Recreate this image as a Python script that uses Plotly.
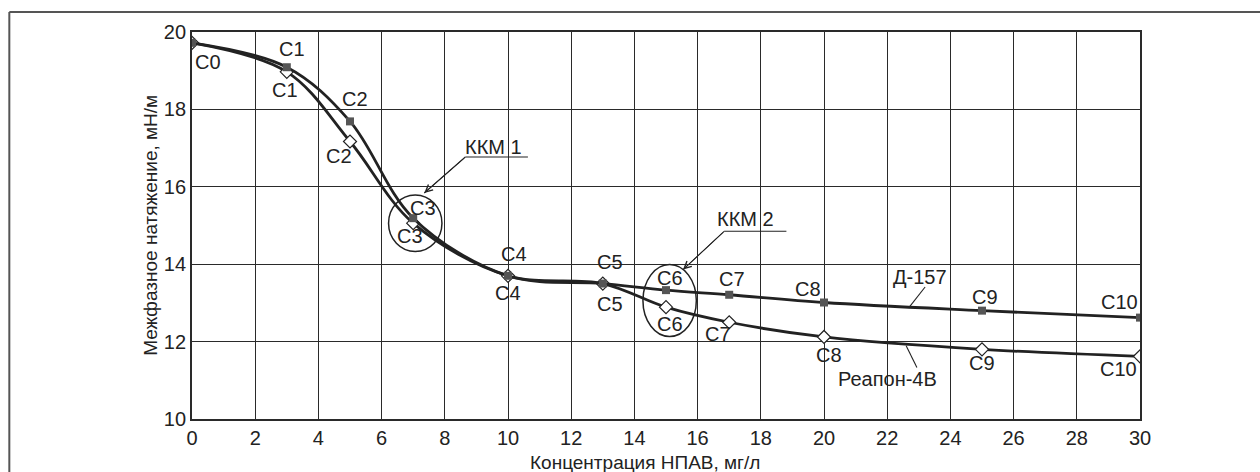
import plotly.graph_objects as go

# Concentration of nonionic surfactant, mg/l
conc = [0, 3, 5, 7, 10, 13, 15, 17, 20, 25, 30]
point_names = ["C0", "C1", "C2", "C3", "C4", "C5", "C6", "C7", "C8", "C9", "C10"]

# Interfacial tension, mN/m
d157 = [19.72, 19.09, 17.69, 15.19, 13.70, 13.50, 13.33, 13.21, 13.01, 12.80, 12.62]
reapon = [19.72, 18.97, 17.17, 15.06, 13.70, 13.50, 12.89, 12.50, 12.12, 11.80, 11.62]

x_ticks = list(range(0, 31, 2))
y_ticks = list(range(10, 21, 2))

FONT = "Liberation Sans, Arial, sans-serif"
INK = "#222222"
LABEL_SIZE = 20

fig = go.Figure()

fig.add_trace(go.Scatter(
    x=conc, y=reapon, mode="lines+markers", name="Реапон-4В",
    line=dict(color=INK, width=2.8, shape="spline", smoothing=1.0),
    marker=dict(symbol="diamond", size=10, color="white",
                line=dict(color=INK, width=1.2)),
))
fig.add_trace(go.Scatter(
    x=conc, y=d157, mode="lines+markers", name="Д-157",
    line=dict(color=INK, width=2.8, shape="spline", smoothing=1.0),
    marker=dict(symbol="square", size=8, color="#555555",
                line=dict(color="#555555", width=0)),
))

# point labels: (xshift, yshift) in pixels for each curve
d157_shift = [(16, -19), (5, 18), (5, 22), (10, 10), (6, 22), (7, 22),
              (4, 12), (3, 16), (-16, 14), (3, 14), (-21, 16)]
reapon_shift = [None, (-2, -18), (-11, -14), (-3, -13), (0, -17), (7, -20),
                (4, -17), (-11, -12), (5, -18), (0, -14), (-22, -13)]

annotations = []
shapes = []
for i, name in enumerate(point_names):
    dx, dy = d157_shift[i]
    annotations.append(dict(x=conc[i], y=d157[i], text=name, showarrow=False,
                            xshift=dx, yshift=dy,
                            font=dict(family=FONT, size=LABEL_SIZE, color=INK)))
    if reapon_shift[i] is not None:
        dx, dy = reapon_shift[i]
        annotations.append(dict(x=conc[i], y=reapon[i], text=name, showarrow=False,
                                xshift=dx, yshift=dy,
                                font=dict(family=FONT, size=LABEL_SIZE, color=INK)))

# critical micelle concentration callouts: label, underline, arrow
for label, tx, ty, tail, head, ul_end in [
    ("ККМ 1", 9.54, 17.04, (8.65, 16.77), (7.35, 15.84), 10.63),
    ("ККМ 2", 17.51, 15.18, (16.84, 14.85), (15.54, 13.86), 18.81),
]:
    annotations.append(dict(x=tx, y=ty, text=label, showarrow=False,
                            font=dict(family=FONT, size=LABEL_SIZE, color=INK)))
    annotations.append(dict(x=head[0], y=head[1], ax=tail[0], ay=tail[1],
                            axref="x", ayref="y", text="", showarrow=True,
                            arrowhead=5, arrowsize=1.4, arrowwidth=1.0,
                            arrowcolor=INK))
    shapes.append(dict(type="line", xref="x", yref="y",
                       x0=tail[0], y0=tail[1], x1=head[0], y1=head[1],
                       line=dict(color=INK, width=1.1)))
    shapes.append(dict(type="line", xref="x", yref="y",
                       x0=tail[0], x1=ul_end, y0=tail[1], y1=tail[1],
                       line=dict(color=INK, width=1.1)))

# curve names with leader lines
annotations.append(dict(x=23.05, y=13.68, text="Д-157", showarrow=False,
                        font=dict(family=FONT, size=LABEL_SIZE, color=INK)))
annotations.append(dict(x=22.0, y=11.03, text="Реапон-4В", showarrow=False,
                        font=dict(family=FONT, size=LABEL_SIZE, color=INK)))

# axis titles
annotations.append(dict(x=(645 - 191.7) / 948.3, y=-0.113, xref="paper", yref="paper",
                        text="Концентрация НПАВ, мг/л", showarrow=False,
                        yanchor="middle",
                        font=dict(family=FONT, size=19, color=INK)))
annotations.append(dict(x=(150 - 191.7) / 948.3, y=0.5, xref="paper", yref="paper",
                        text="Межфазное натяжение, мН/м", showarrow=False,
                        textangle=-90, xanchor="center",
                        font=dict(family=FONT, size=19, color=INK)))

shapes += [
    # ellipses around the CMC points
    dict(type="circle", xref="x", yref="y", x0=6.22, x1=7.91, y0=14.33, y1=15.79,
         line=dict(color=INK, width=1.5)),
    dict(type="circle", xref="x", yref="y", x0=14.27, x1=15.96, y0=12.13, y1=13.99,
         line=dict(color=INK, width=1.5)),
    # leader lines of the curve names
    dict(type="line", xref="x", yref="y", x0=23.20, y0=13.41, x1=22.68, y1=12.87,
         line=dict(color=INK, width=1.1)),
    dict(type="line", xref="x", yref="y", x0=22.94, y0=11.33, x1=22.60, y1=11.89,
         line=dict(color=INK, width=1.1)),
    # outer frame (left and top edges)
    dict(type="line", xref="paper", yref="paper", x0=-0.1927, x1=-0.1927, y0=-0.3, y1=1.052,
         line=dict(color="#555555", width=2)),
    dict(type="line", xref="paper", yref="paper", x0=-0.1927, x1=1.2, y0=1.052, y1=1.052,
         line=dict(color="#555555", width=2)),
]

fig.update_layout(
    width=1260, height=472,
    margin=dict(l=192, r=120, t=32, b=53),
    paper_bgcolor="white", plot_bgcolor="white",
    showlegend=False,
    annotations=annotations,
    shapes=shapes,
    font=dict(family=FONT, size=20, color=INK),
)
fig.update_xaxes(
    range=[0, 30], tickvals=x_ticks, ticks="", showgrid=True,
    gridcolor="#2a2a2a", gridwidth=1.3, showline=True, linecolor="#2a2a2a",
    linewidth=1.8, mirror=True, zeroline=False,
    tickfont=dict(family=FONT, size=20, color=INK),
)
fig.update_yaxes(
    range=[10, 20], tickvals=y_ticks, ticks="", showgrid=True,
    gridcolor="#2a2a2a", gridwidth=1.3, showline=True, linecolor="#2a2a2a",
    linewidth=1.8, mirror=True, zeroline=False,
    tickfont=dict(family=FONT, size=20, color=INK),
)

fig.write_html("out.html")
